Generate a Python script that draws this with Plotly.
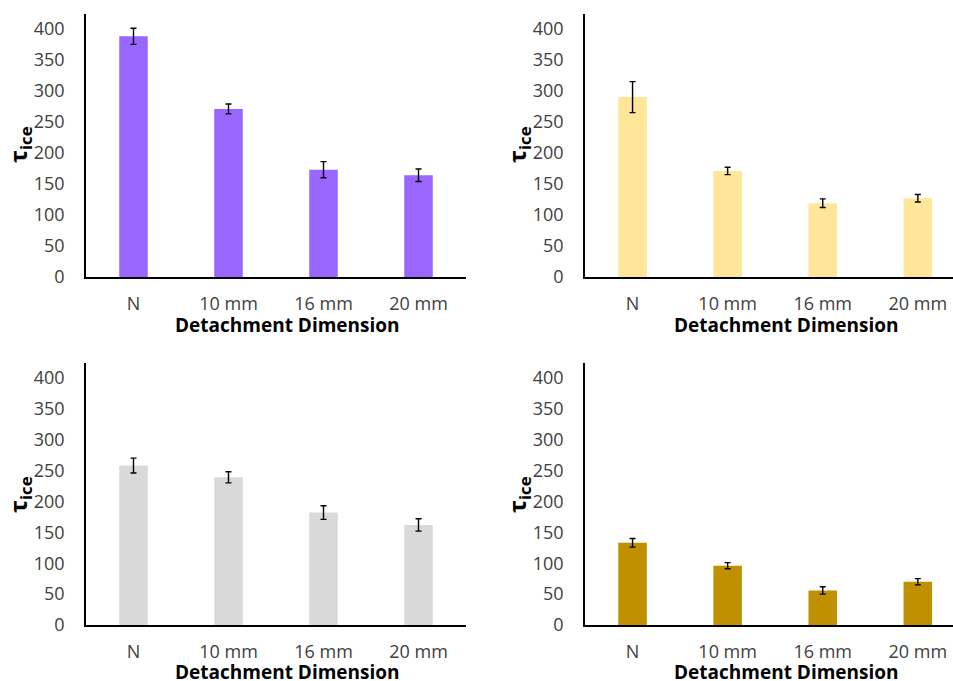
import plotly.graph_objects as go
from plotly.subplots import make_subplots

categories = ["N", "10 mm", "16 mm", "20 mm"]

purple_vals = [388, 271, 173, 164]
purple_err = [13, 8, 13, 10]

yellow_vals = [290, 171, 119, 127]
yellow_err = [25, 6, 7, 6]

gray_vals = [258, 239, 182, 162]
gray_err = [12, 9, 11, 10]

gold_vals = [133, 96, 56, 70]
gold_err = [7, 5, 6, 5]

panels = [
    (purple_vals, purple_err, "#9966FF", 1, 1),
    (yellow_vals, yellow_err, "#FFE699", 1, 2),
    (gray_vals, gray_err, "#D9D9D9", 2, 1),
    (gold_vals, gold_err, "#BF9000", 2, 2),
]

FONT = "Open Sans"

fig = make_subplots(rows=2, cols=2)

for vals, err, color, r, c in panels:
    fig.add_trace(
        go.Bar(
            x=categories,
            y=vals,
            width=0.3,
            marker=dict(color=color, line=dict(width=0)),
            error_y=dict(type="data", array=err, visible=True,
                         color="#000000", thickness=1.4, width=3),
            showlegend=False,
        ),
        row=r, col=c,
    )

# body margin is removed in the page (see post_script), figure fills the window
W, H = 953, 681


def px_x(x):
    return x / W


def px_y(y):
    return 1 - y / H


left_dom = [px_x(86), px_x(466)]
right_dom = [px_x(585), 1.0]
top_dom = [px_y(277), px_y(14)]
bot_dom = [px_y(625), px_y(363)]

fig.update_xaxes(
    automargin=False,
    showline=True, linecolor="#000000", linewidth=1.5,
    showgrid=False, zeroline=False, ticks="",
    tickfont=dict(family=FONT, size=18, color="#404040"),
    ticklabelstandoff=10,
)
fig.update_yaxes(
    automargin=False,
    range=[0, 424], tickvals=[0, 50, 100, 150, 200, 250, 300, 350, 400],
    showline=True, linecolor="#000000", linewidth=1.5,
    showgrid=False, zeroline=False, ticks="",
    tickfont=dict(family=FONT, size=18, color="#404040"),
    ticklabelstandoff=16,
)

# axis titles as annotations (x centre, y centre in pixels)
xtitles = [(287, 325), (786, 325), (287, 672), (786, 672)]
ytitles = [(19, 145), (518, 145), (19, 495), (518, 495)]
for x, y in xtitles:
    fig.add_annotation(
        text="<b>Detachment Dimension</b>", x=px_x(x), y=px_y(y),
        xref="paper", yref="paper", showarrow=False,
        xanchor="center", yanchor="middle",
        font=dict(family=FONT, size=19, color="#000000"),
    )
for x, y in ytitles:
    fig.add_annotation(
        text="<b>τ<sub>ice</sub></b>", x=px_x(x), y=px_y(y),
        xref="paper", yref="paper", showarrow=False, textangle=-90,
        xanchor="center", yanchor="middle",
        font=dict(family=FONT, size=24, color="#000000"),
    )

fig.update_layout(
    width=W, height=H,
    margin=dict(l=0, r=0, t=0, b=0),
    plot_bgcolor="white", paper_bgcolor="white",
    xaxis=dict(domain=left_dom, range=[-0.5, 3.5]),
    xaxis2=dict(domain=right_dom, range=[-0.5, 3.37]),
    xaxis3=dict(domain=left_dom, range=[-0.5, 3.5]),
    xaxis4=dict(domain=right_dom, range=[-0.5, 3.37]),
    yaxis=dict(domain=top_dom),
    yaxis2=dict(domain=top_dom),
    yaxis3=dict(domain=bot_dom),
    yaxis4=dict(domain=bot_dom),
    bargap=0.7,
)

fig.write_html(
    "out.html",
    config={"displayModeBar": False},
    post_script="document.body.style.margin='0';"
                "document.body.style.overflow='hidden';",
)
